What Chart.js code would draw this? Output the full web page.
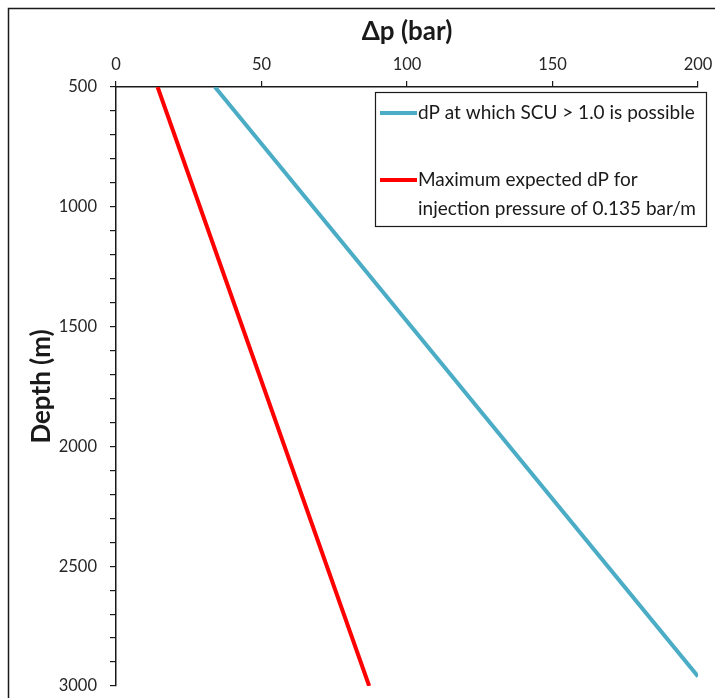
<!DOCTYPE html>
<html>
<head>
<meta charset="utf-8">
<script src="https://cdn.jsdelivr.net/npm/chart.js@4.4.1/dist/chart.umd.min.js"></script>
<style>
  html, body { margin: 0; padding: 0; background: #fff; }
  #wrap { width: 715px; height: 698px; }
</style>
</head>
<body>
<div id="wrap"><canvas id="graf"></canvas></div>
<script>
// valores
const profundidades = [500, 3000]
const dp_scu = [34, 200]          // azul termina em x=200
const prof_scu = [500, 2960]
const dp_max = [14.3, 87]         // vermelho

const label_scu = 'dP at which SCU > 1.0 is possible'
const label_max = 'Maximum expected dP for\ninjection pressure of 0.135 bar/m'

const x_ticks = [0, 50, 100, 150, 200]

const fonte = 'Lato, "Open Sans", sans-serif'
const cor_texto = '#262626'

let ctx = document.getElementById('graf')

// moldura externa e fundo
const moldura = {
  id: 'moldura',
  beforeDraw(chart) {
    const c = chart.ctx
    c.save()
    c.fillStyle = '#fff'
    c.fillRect(0, 0, chart.width, chart.height)
    c.strokeStyle = '#1a1a1a'
    c.lineWidth = 1.5
    c.strokeRect(8.5, 8.5, 900, 900)
    c.restore()
  }
}

// legenda com caixa, desenhada à mão
const legenda = {
  id: 'legenda',
  afterDraw(chart) {
    const c = chart.ctx
    c.save()
    c.fillStyle = '#fff'
    c.fillRect(375, 92, 332, 134)
    c.strokeStyle = '#1a1a1a'
    c.lineWidth = 1.2
    c.strokeRect(375.5, 92.5, 331, 134)
    const linhas_y = [113, 180]
    c.font = '19px ' + fonte
    c.textBaseline = 'middle'
    c.fillStyle = '#1a1a1a'
    chart.data.datasets.forEach((ds, i) => {
      const y = linhas_y[i]
      c.strokeStyle = ds.borderColor
      c.lineWidth = 4
      c.beginPath()
      c.moveTo(380, y)
      c.lineTo(417, y)
      c.stroke()
      ds.label.split('\n').forEach((t, k) => {
        c.fillText(t, 418, y + k * 29)
      })
    })
    c.restore()
  }
}

let graf = new Chart(ctx, {
  type: 'line',
  data: {
    datasets: [
      {
        label: label_scu,
        data: dp_scu.map((v, i) => ({ x: v, y: prof_scu[i] })),
        borderColor: '#4BACC6',
        borderWidth: 4,
        pointRadius: 0,
        tension: 0
      },
      {
        label: label_max,
        data: dp_max.map((v, i) => ({ x: v, y: profundidades[i] })),
        borderColor: '#FF0000',
        borderWidth: 4,
        pointRadius: 0,
        tension: 0
      }
    ]
  },
  options: {
    responsive: true,
    maintainAspectRatio: false,
    animation: false,
    layout: { padding: { left: 0, top: 0, right: 17, bottom: 12 } },
    plugins: {
      legend: { display: false },
      tooltip: { enabled: false }
    },
    scales: {
      x: {
        type: 'linear',
        position: 'top',
        min: 0,
        max: 200,
        afterBuildTicks: (s) => { s.ticks = x_ticks.map(v => ({ value: v })) },
        afterFit: (s) => {
          s.height = 87
          s.paddingLeft = 0
          s.paddingRight = 0
        },
        ticks: {
          font: { family: fonte, size: 16.5 },
          color: cor_texto,
          padding: 6
        },
        grid: {
          drawOnChartArea: false,
          tickLength: 6,
          color: '#1a1a1a',
          lineWidth: 1.2
        },
        border: { display: true, color: '#1a1a1a', width: 1.5 },
        title: {
          display: true,
          text: 'Δp (bar)',
          font: { family: fonte, size: 26, weight: 'bold' },
          color: '#1a1a1a',
          padding: { top: 16, bottom: 0 }
        }
      },
      y: {
        type: 'linear',
        reverse: true,
        min: 500,
        max: 3000,
        afterFit: (s) => {
          s.width = 116
          s.paddingTop = 0
          s.paddingBottom = 0
        },
        ticks: {
          stepSize: 100,
          autoSkip: false,
          font: { family: fonte, size: 16.5 },
          color: cor_texto,
          padding: 13,
          callback: (v) => (v % 500 === 0 ? v : '')
        },
        grid: {
          drawOnChartArea: false,
          tickLength: 6,
          color: '#1a1a1a',
          lineWidth: 1.2
        },
        border: { display: true, color: '#1a1a1a', width: 1.5 },
        title: {
          display: true,
          text: 'Depth (m)',
          font: { family: fonte, size: 26, weight: 'bold' },
          color: '#1a1a1a',
          padding: { top: 26, bottom: 0 }
        }
      }
    }
  },
  plugins: [moldura, legenda]
})
</script>
</body>
</html>
